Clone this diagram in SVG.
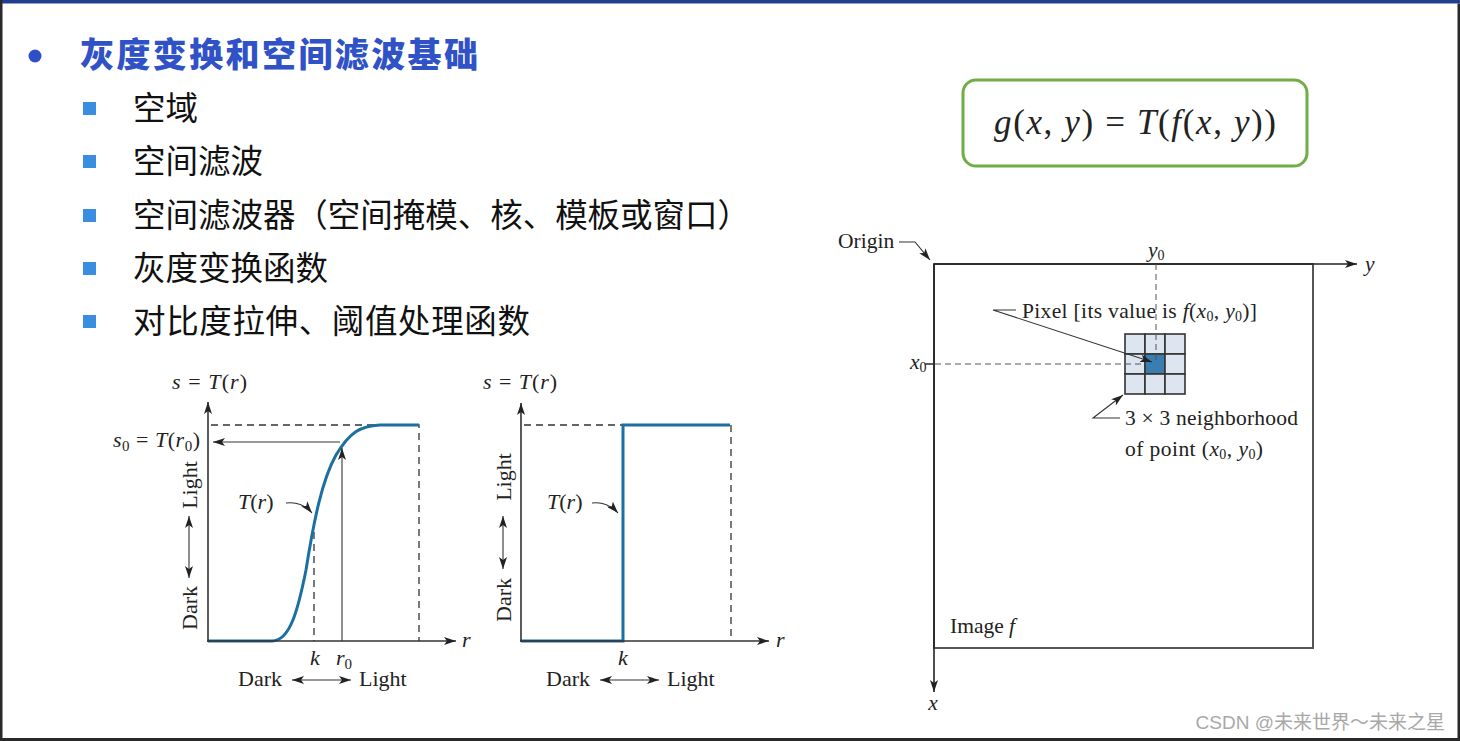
<svg xmlns="http://www.w3.org/2000/svg" width="1460" height="741" viewBox="0 0 1460 741">
<defs>
<marker id="ah" viewBox="0 0 12 8" refX="12" refY="4" markerWidth="12" markerHeight="8" markerUnits="userSpaceOnUse" orient="auto-start-reverse"><path d="M0,0 L12,4 L0,8 L3,4 z" fill="#222"/></marker>
<style>
.cjk{font-family:"Noto Sans CJK SC","Noto Sans",sans-serif;fill:#111}
.ser{font-family:"Liberation Serif","Times New Roman",serif;fill:#222}
.it{font-style:italic}
.ax{stroke:#333;stroke-width:1.6;fill:none}
.thin{stroke:#333;stroke-width:1.1;fill:none}
.dash{stroke:#333;stroke-width:1.3;stroke-dasharray:7 5;fill:none}
.dash2{stroke:#555;stroke-width:1;stroke-dasharray:6 4;fill:none}
.curve{stroke:#1b6fa1;stroke-width:3;fill:none}
.sq{fill:#3a8ee0}
.cell{fill:#dde5f0;stroke:#333;stroke-width:1.6}
</style>
</defs>
<rect x="0" y="0" width="1460" height="741" fill="#ffffff"/>
<rect x="0" y="0" width="1460" height="3.5" fill="#213f8e"/>
<rect x="0" y="0" width="2.5" height="741" fill="#2a2a2a"/>
<rect x="1457.5" y="3.5" width="2.5" height="737.5" fill="#2a2a2a"/>
<rect x="0" y="738" width="1460" height="3" fill="#2a2a2a"/>

<g id="title">
<circle cx="35" cy="56" r="6.5" fill="#2d4fc8"/>
<text x="80" y="67" class="cjk" font-size="34" font-weight="900" style="fill:#2f52c6" textLength="398" lengthAdjust="spacing">灰度变换和空间滤波基础</text>
</g>
<g id="bullets">
<rect class="sq" x="83" y="102" width="13" height="13"/>
<text x="133" y="120" class="cjk" font-size="32.5">空域</text>
<rect class="sq" x="83" y="155" width="13" height="13"/>
<text x="133" y="173" class="cjk" font-size="32.5">空间滤波</text>
<rect class="sq" x="83" y="209" width="13" height="13"/>
<text x="133" y="227" class="cjk" font-size="32.5" textLength="617" lengthAdjust="spacing">空间滤波器（空间掩模、核、模板或窗口）</text>
<rect class="sq" x="83" y="262" width="13" height="13"/>
<text x="133" y="280" class="cjk" font-size="32.5">灰度变换函数</text>
<rect class="sq" x="83" y="315" width="13" height="13"/>
<text x="133" y="333" class="cjk" font-size="32.5" textLength="397" lengthAdjust="spacing">对比度拉伸、阈值处理函数</text>
</g>

<g id="formula">
<rect x="963" y="80" width="344" height="86" rx="13" ry="13" fill="#fff" stroke="#70ad47" stroke-width="3"/>
<text x="1135" y="134" class="ser" font-size="35" text-anchor="middle" textLength="282" lengthAdjust="spacing"><tspan class="it">g</tspan>(<tspan class="it">x</tspan>, <tspan class="it">y</tspan>) = <tspan class="it">T</tspan>(<tspan class="it">f</tspan>(<tspan class="it">x</tspan>, <tspan class="it">y</tspan>))</text>
</g>

<g id="graph1" font-size="22">
<path class="dash" d="M211,425 H419 V641"/>
<path class="dash" d="M314,532 V641"/>
<path class="curve" d="M208,641 L272,641 C290,641 298,610 306,570 C314,520 322,480 336,455 C350,432 360,426 380,425 L419,425"/>
<line class="thin" x1="342" y1="641" x2="342" y2="448" marker-end="url(#ah)"/>
<line class="thin" x1="340" y1="442" x2="213" y2="442" marker-end="url(#ah)"/>
<line class="ax" x1="208" y1="642" x2="208" y2="402" marker-end="url(#ah)"/>
<line class="ax" x1="207" y1="641" x2="456" y2="641" marker-end="url(#ah)"/>
<text class="ser" x="172" y="389" textLength="75" lengthAdjust="spacing"><tspan class="it">s</tspan> = <tspan class="it">T</tspan>(<tspan class="it">r</tspan>)</text>
<text class="ser" x="113" y="447" textLength="87" lengthAdjust="spacing"><tspan class="it">s</tspan><tspan font-size="15" dy="4">0</tspan><tspan dy="-4"> = </tspan><tspan class="it">T</tspan>(<tspan class="it">r</tspan><tspan font-size="15" dy="4">0</tspan><tspan dy="-4">)</tspan></text>
<text class="ser it" x="462" y="647">r</text>
<text class="ser" x="238" y="509"><tspan class="it">T</tspan>(<tspan class="it">r</tspan>)</text>
<path class="thin" d="M286,503 Q302,501 312,513" marker-end="url(#ah)"/>
<text class="ser it" x="315" y="665" text-anchor="middle">k</text>
<text class="ser" x="336" y="665"><tspan class="it">r</tspan><tspan font-size="15" dy="4">0</tspan></text>
<text class="ser" x="238" y="686">Dark</text>
<line class="thin" x1="292" y1="680" x2="351" y2="680" marker-start="url(#ah)" marker-end="url(#ah)"/>
<text class="ser" x="359" y="686">Light</text>
<text class="ser" transform="translate(197,485) rotate(-90)" text-anchor="middle">Light</text>
<line class="thin" x1="189" y1="516" x2="189" y2="578" marker-start="url(#ah)" marker-end="url(#ah)"/>
<text class="ser" transform="translate(197,608) rotate(-90)" text-anchor="middle">Dark</text>
</g>

<g id="graph2" font-size="22">
<path class="dash" d="M524,425 H623"/>
<path class="dash" d="M731,425 V641"/>
<path class="curve" d="M521,641 H623 V425 H730"/>
<line class="ax" x1="521" y1="642" x2="521" y2="403" marker-end="url(#ah)"/>
<line class="ax" x1="520" y1="641" x2="769" y2="641" marker-end="url(#ah)"/>
<text class="ser" x="483" y="389" textLength="74" lengthAdjust="spacing"><tspan class="it">s</tspan> = <tspan class="it">T</tspan>(<tspan class="it">r</tspan>)</text>
<text class="ser it" x="776" y="647">r</text>
<text class="ser" x="547" y="509"><tspan class="it">T</tspan>(<tspan class="it">r</tspan>)</text>
<path class="thin" d="M592,503 Q607,501 618,513" marker-end="url(#ah)"/>
<text class="ser it" x="623" y="665" text-anchor="middle">k</text>
<text class="ser" x="546" y="686">Dark</text>
<line class="thin" x1="600" y1="680" x2="659" y2="680" marker-start="url(#ah)" marker-end="url(#ah)"/>
<text class="ser" x="667" y="686">Light</text>
<text class="ser" transform="translate(511,477) rotate(-90)" text-anchor="middle">Light</text>
<line class="thin" x1="503" y1="516" x2="503" y2="569" marker-start="url(#ah)" marker-end="url(#ah)"/>
<text class="ser" transform="translate(511,600) rotate(-90)" text-anchor="middle">Dark</text>
</g>

<g id="image-f" font-size="21.5">
<rect x="934" y="264" width="379" height="384" fill="none" stroke="#555" stroke-width="2"/>
<line class="ax" x1="934" y1="264" x2="1357" y2="264" marker-end="url(#ah)" style="stroke:#222"/>
<line class="ax" x1="934" y1="264" x2="934" y2="692" marker-end="url(#ah)" style="stroke:#222"/>
<text class="ser it" x="1365" y="271">y</text>
<text class="ser it" x="933" y="710" text-anchor="middle">x</text>
<text class="ser" x="838" y="248">Origin</text>
<path class="thin" d="M899,242 H915 L930,260" marker-end="url(#ah)"/>
<text class="ser" x="1148" y="257"><tspan class="it">y</tspan><tspan font-size="14" dy="3">0</tspan></text>
<text class="ser" x="910" y="369"><tspan class="it">x</tspan><tspan font-size="14" dy="3">0</tspan></text>
<line class="ax" x1="925" y1="364" x2="934" y2="364"/>
<path class="dash2" d="M1156,264 V362"/>
<path class="dash2" d="M935,364 H1146"/>
<g id="grid">
<rect class="cell" x="1125" y="334" width="20" height="20"/>
<rect class="cell" x="1145" y="334" width="20" height="20"/>
<rect class="cell" x="1165" y="334" width="20" height="20"/>
<rect class="cell" x="1125" y="354" width="20" height="20"/>
<rect class="cell" x="1145" y="354" width="20" height="20" style="fill:#3a7db0"/>
<rect class="cell" x="1165" y="354" width="20" height="20"/>
<rect class="cell" x="1125" y="374" width="20" height="20"/>
<rect class="cell" x="1145" y="374" width="20" height="20"/>
<rect class="cell" x="1165" y="374" width="20" height="20"/>
</g>
<path class="dash2" d="M1156,334 V362"/>
<path class="dash2" d="M1125,364 H1146"/>
<text class="ser" x="1022" y="318" textLength="235" lengthAdjust="spacing">Pixel [its value is <tspan class="it">f</tspan>(<tspan class="it">x</tspan><tspan font-size="14" dy="3">0</tspan><tspan dy="-3">, </tspan><tspan class="it">y</tspan><tspan font-size="14" dy="3">0</tspan><tspan dy="-3">)]</tspan></text>
<path class="thin" d="M1016,310 H993 L1152,362" marker-end="url(#ah)"/>
<path class="thin" d="M1120,418 H1093 L1123,395" marker-end="url(#ah)"/>
<text class="ser" x="1125" y="425" textLength="173" lengthAdjust="spacing">3 × 3 neighborhood</text>
<text class="ser" x="1125" y="456" textLength="138" lengthAdjust="spacing">of point (<tspan class="it">x</tspan><tspan font-size="14" dy="3">0</tspan><tspan dy="-3">, </tspan><tspan class="it">y</tspan><tspan font-size="14" dy="3">0</tspan><tspan dy="-3">)</tspan></text>
<text class="ser" x="950" y="633">Image <tspan class="it">f</tspan></text>
</g>

<text x="1445" y="729" text-anchor="end" font-family="Liberation Sans, Noto Sans CJK SC, sans-serif" font-size="19" fill="#a8a8a8">CSDN @未来世界～未来之星</text>
</svg>
